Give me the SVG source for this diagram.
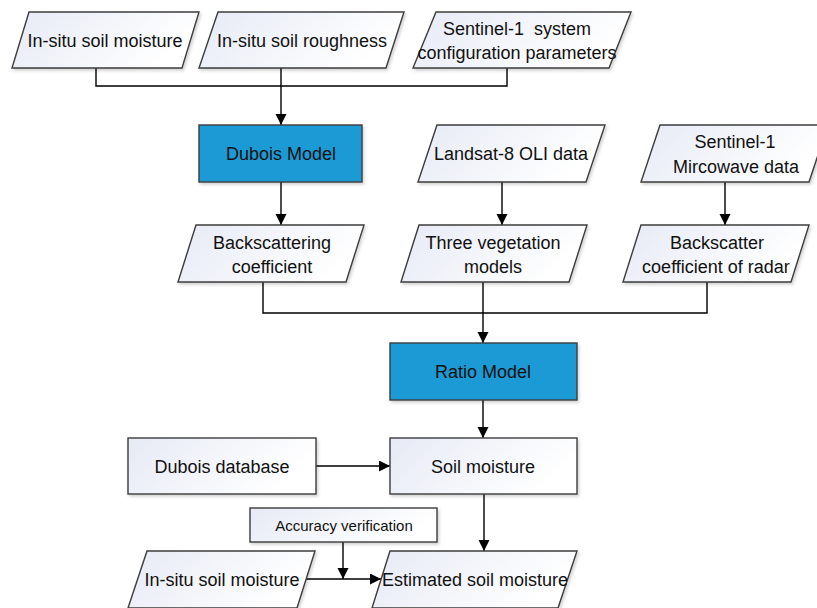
<svg xmlns="http://www.w3.org/2000/svg" width="817" height="608" viewBox="0 0 817 608">
<defs>
<linearGradient id="lg" x1="0" y1="0" x2="1" y2="0.3">
<stop offset="0" stop-color="#e6eaf5"/>
<stop offset="1" stop-color="#ffffff"/>
</linearGradient>
<filter id="sh" x="-10%" y="-10%" width="125%" height="130%">
<feDropShadow dx="1.5" dy="2" stdDeviation="1.5" flood-color="#000" flood-opacity="0.18"/>
</filter>
<marker id="ah" markerWidth="12" markerHeight="12" refX="11" refY="5.5" orient="auto" markerUnits="userSpaceOnUse">
<path d="M0,0 L11,5.5 L0,11 Z" fill="#000"/>
</marker>
<style>
.io{fill:url(#lg);stroke:#3c3c3c;stroke-width:1.4;filter:url(#sh)}
.bx{fill:url(#lg);stroke:#3c3c3c;stroke-width:1.4;filter:url(#sh)}
.bl{fill:#1a9ad6;stroke:#3c3c3c;stroke-width:1.4;filter:url(#sh)}
text{font-family:"Liberation Sans",Arial,sans-serif;font-size:18px;fill:#111;text-anchor:middle}
.sm{font-size:15px}
.c{fill:none;stroke:#000;stroke-width:1.4}
</style>
</defs>
<rect width="817" height="608" fill="#fff"/>

<g id="connectors">
<path class="c" d="M96,68 V86 H507 V68"/>
<path class="c" d="M281,68 V125" marker-end="url(#ah)"/>
<path class="c" d="M281,182 V225" marker-end="url(#ah)"/>
<path class="c" d="M502,182 V225" marker-end="url(#ah)"/>
<path class="c" d="M725,182 V225" marker-end="url(#ah)"/>
<path class="c" d="M263,282 V313 H707 V282"/>
<path class="c" d="M483,282 V343" marker-end="url(#ah)"/>
<path class="c" d="M483,400 V438" marker-end="url(#ah)"/>
<path class="c" d="M316,466 H390" marker-end="url(#ah)"/>
<path class="c" d="M484,494 V551" marker-end="url(#ah)"/>
<path class="c" d="M305,579 H381" marker-end="url(#ah)"/>
<path class="c" d="M343,542 V579" marker-end="url(#ah)"/>
</g>

<g id="n_insitu_moisture">
<polygon class="io" points="29,12 199,12 182,68 12,68"/>
<text x="105" y="47">In-situ soil moisture</text>
</g>
<g id="n_insitu_roughness">
<polygon class="io" points="218,12 404,12 386,68 199,68"/>
<text x="302" y="47">In-situ soil roughness</text>
</g>
<g id="n_sentinel_params">
<polygon class="io" points="436,12 631,12 609,68 413,68"/>
<text x="517" y="35" style="white-space:pre">Sentinel-1  system</text>
<text x="517" y="59">configuration parameters</text>
</g>

<g id="n_dubois_model">
<rect class="bl" x="199" y="125" width="163" height="57"/>
<text x="281" y="160">Dubois Model</text>
</g>
<g id="n_landsat">
<polygon class="io" points="437,125 605,125 586,182 418,182"/>
<text x="511" y="160">Landsat-8 OLI data</text>
</g>
<g id="n_sentinel_micro">
<polygon class="io" points="660,125 828,125 809,182 641,182"/>
<text x="735" y="148">Sentinel-1</text>
<text x="736" y="173">Mircowave data</text>
</g>

<g id="n_backscattering">
<polygon class="io" points="196,225 364,225 346,282 178,282"/>
<text x="272" y="249">Backscattering</text>
<text x="272" y="273">coefficient</text>
</g>
<g id="n_vegetation">
<polygon class="io" points="419,225 587,225 569,282 401,282"/>
<text x="493" y="249">Three vegetation</text>
<text x="493" y="273">models</text>
</g>
<g id="n_radar">
<polygon class="io" points="641,225 809,225 791,282 623,282"/>
<text x="717" y="249">Backscatter</text>
<text x="716" y="273">coefficient of radar</text>
</g>

<g id="n_ratio_model">
<rect class="bl" x="390" y="343" width="187" height="57"/>
<text x="483" y="378">Ratio Model</text>
</g>
<g id="n_dubois_db">
<rect class="bx" x="128" y="438" width="188" height="56"/>
<text x="222" y="473">Dubois database</text>
</g>
<g id="n_soil_moisture">
<rect class="bx" x="390" y="438" width="187" height="56"/>
<text x="483" y="473">Soil moisture</text>
</g>
<g id="n_accuracy">
<rect class="bx" x="250" y="508" width="187" height="34"/>
<text class="sm" x="344" y="531">Accuracy verification</text>
</g>
<g id="n_insitu_bottom">
<polygon class="io" points="147,551 315,551 297,608 128,608"/>
<text x="222" y="586">In-situ soil moisture</text>
</g>
<g id="n_estimated">
<polygon class="io" points="390,551 577,551 558,608 372,608"/>
<text x="475" y="586">Estimated soil moisture</text>
</g>
</svg>
